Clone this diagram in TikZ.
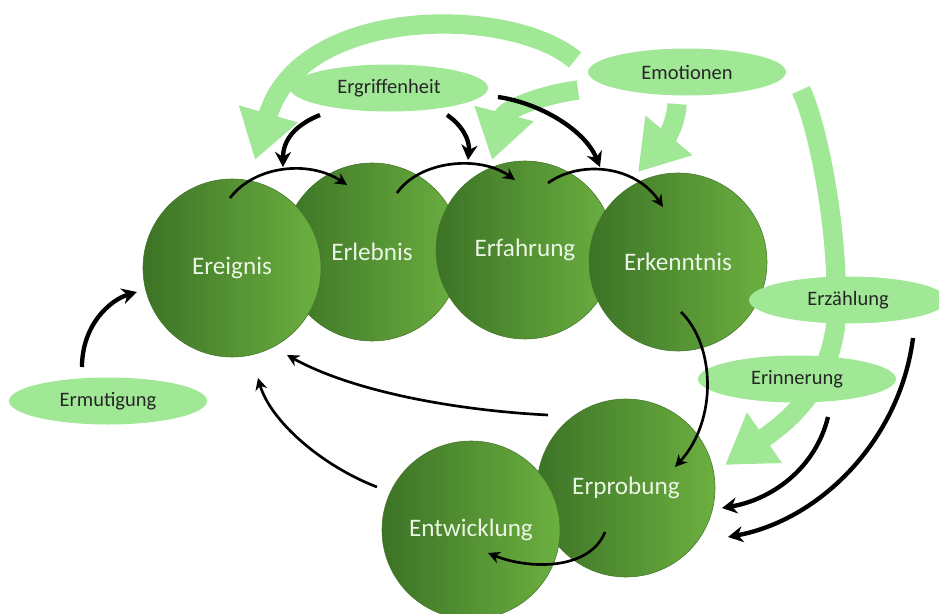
\documentclass[tikz,border=0pt]{standalone}
\usepackage{fontspec}
\setmainfont{Carlito}
\usetikzlibrary{shapes.geometric,arrows.meta}
\definecolor{stagedark}{RGB}{60,115,38}
\definecolor{stagelight}{RGB}{108,176,64}
\definecolor{stageline}{RGB}{70,120,45}
\definecolor{feelfill}{RGB}{160,232,150}
\definecolor{stagetext}{RGB}{235,245,228}
\pgfdeclarelayer{back}
\pgfsetlayers{back,main}
\tikzset{
  stagecircle/.style={circle, minimum size=5.34cm, inner sep=0pt, left color=stagedark,
    right color=stagelight, draw=stageline, line width=0.5pt, text=stagetext,
    font=\fontsize{21.5}{24}\selectfont},
  feelellipse/.style={ellipse, minimum width=5.94cm, minimum height=1.41cm, inner sep=0pt,
    fill=feelfill, text=black!85, font=\fontsize{17.5}{20}\selectfont},
  greenarrow/.style={draw=feelfill, line width=0.58cm, -{Triangle[length=1.44cm,width=1.74cm]}},
  thinarrow/.style={line width=0.08cm, -{Stealth[length=0.36cm,width=0.36cm]}},
  thickarrow/.style={line width=0.13cm, -{Stealth[length=0.45cm,width=0.48cm]}}
}
\begin{document}
\begin{tikzpicture}[x=0.03cm,y=-0.03cm]
  \useasboundingbox (0,0) rectangle (939,614);
  \foreach \nm/\x/\y/\txt in {erleb/372/252/Erlebnis, ereig/232/268/Ereignis,
      erfah/525/250/Erfahrung, erkenn/678/262/Erkenntnis,
      erprob/626/488/Erprobung, entw/471/530/Entwicklung}
    \node[stagecircle] (\nm) at (\x,\y) {\txt};
  \foreach \nm/\x/\y/\txt in {ergr/389/88/Ergriffenheit, emot/687/72/Emotionen,
      erzaehl/848/300/Erzählung, erinn/797/379/Erinnerung, ermut/108/401/Ermutigung}
    \node[feelellipse] (\nm) at (\x,\y) {\txt};

  \begin{pgfonlayer}{back}
    \draw[greenarrow] ([shift={(-112,-12)}]emot.center) .. controls (510,5) and (300,5) .. ([shift={(23,-108)}]ereig.center);
    \draw[greenarrow] ([shift={(-109,18)}]emot.center) .. controls (540,95) and (505,110) .. ([shift={(-33,-90)}]erfah.center);
    \draw[greenarrow] ([shift={(-10,32)}]emot.center) .. controls (676,125) and (665,140) .. ([shift={(-40,-90)}]erkenn.center);
    \draw[greenarrow] ([shift={(114,18)}]emot.center) .. controls (820,130) and (842,250) .. (835,330)
      .. controls (825,390) and (790,420) .. ([shift={(99,-23)}]erprob.center);
  \end{pgfonlayer}

  \draw[thickarrow] ([shift={(-69,27)}]ergr.center) .. controls (295,125) and (283,140) .. ([shift={(51,-101)}]ereig.center);
  \draw[thickarrow] ([shift={(58,27)}]ergr.center) .. controls (462,125) and (470,140) .. ([shift={(-57,-90)}]erfah.center);
  \draw[thickarrow] ([shift={(109,9)}]ergr.center) .. controls (540,103) and (585,130) .. ([shift={(-78,-95)}]erkenn.center);

  \draw[thinarrow] ([shift={(-2,-70)}]ereig.center) .. controls (255,165) and (310,160) .. ([shift={(-25,-67)}]erleb.center);
  \draw[thinarrow] ([shift={(25,-59)}]erleb.center) .. controls (420,160) and (480,155) .. ([shift={(-10,-70)}]erfah.center);
  \draw[thinarrow] ([shift={(23,-67)}]erfah.center) .. controls (580,160) and (635,165) .. ([shift={(-15,-55)}]erkenn.center);
  \draw[thinarrow] ([shift={(3,50)}]erkenn.center) .. controls (715,345) and (718,420) .. ([shift={(49,-21)}]erprob.center);
  \draw[thinarrow] ([shift={(-21,44)}]erprob.center) .. controls (590,570) and (530,570) .. ([shift={(17,23)}]entw.center);
  \draw[thinarrow] ([shift={(-78,-73)}]erprob.center) .. controls (450,410) and (350,390) .. ([shift={(55,87)}]ereig.center);
  \draw[thinarrow] ([shift={(-94,-43)}]entw.center) .. controls (320,465) and (270,420) .. ([shift={(26,110)}]ereig.center);
  \draw[thickarrow] ([shift={(-26,-34)}]ermut.center) .. controls (82,325) and (110,300) .. ([shift={(-95,24)}]ereig.center);

  \draw[thickarrow] ([shift={(31,38)}]erinn.center) .. controls (815,470) and (770,500) .. ([shift={(96,20)}]erprob.center);
  \draw[thickarrow] ([shift={(65,38)}]erzaehl.center) .. controls (900,440) and (820,520) .. ([shift={(102,49)}]erprob.center);
\end{tikzpicture}
\end{document}
